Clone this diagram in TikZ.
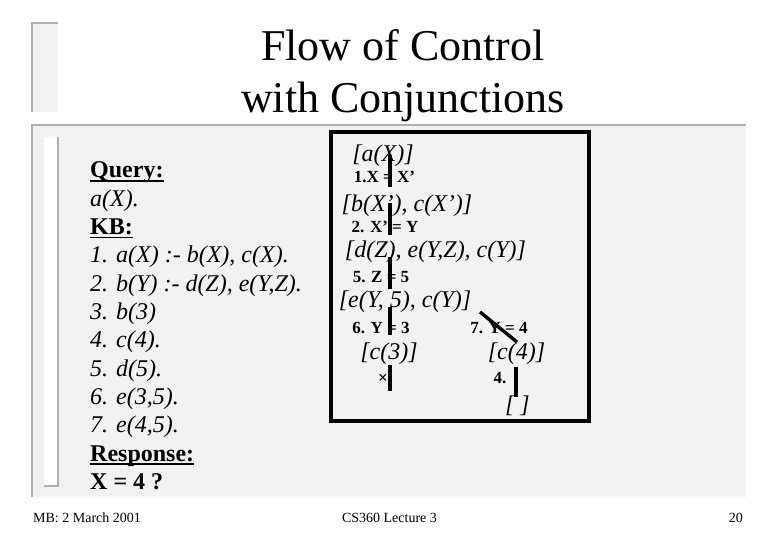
\documentclass[tikz,border=0pt]{standalone}
\usepackage{fontspec}
\setmainfont{Liberation Serif}
\usepackage{tikz}

\definecolor{panelgray}{HTML}{F2F2F2}
\definecolor{rimgray}{HTML}{B0B0B0}

% underline sitting just below the baseline
\newcommand{\uword}[1]{\setbox0=\hbox{#1}\rlap{\rule[-3.6pt]{\wd0}{1.3pt}}\box0}

\begin{document}
\begin{tikzpicture}[x=1pt, y=-1pt,
  goal/.style={inner sep=0pt, font=\fontsize{24}{28}\selectfont\itshape},
  unif/.style={inner sep=0pt, font=\fontsize{17}{19}\selectfont\bfseries},
  kbtext/.style={anchor=base west, inner sep=0pt, font=\fontsize{24}{28}\selectfont},
  foot/.style={anchor=base, inner sep=0pt, font=\fontsize{14}{16}\selectfont},
  rim/.style={draw=rimgray, line width=2pt},
  link/.style={line width=3.4pt}]
  \useasboundingbox (0,0) rectangle (780,540);

  % slide frame: title tab, body panel and the white bar inside it
  \fill[panelgray] (32,23) rectangle (58,112);
  \draw[rim] (32,112) -- (32,23) -- (58,23);
  \fill[panelgray] (32,125) rectangle (746,497);
  \draw[rim] (32,497) -- (32,125) -- (746,125);
  \fill[white] (44,137) rectangle (58,486);
  \draw[rim] (58,137) -- (58,486) -- (44,486);

  % title
  \node[anchor=base, font=\fontsize{44}{52}\selectfont] (title1) at (403,61) {Flow of Control};
  \node[anchor=base, font=\fontsize{44}{52}\selectfont] (title2) at (403,113) {with Conjunctions};

  % query, knowledge base and response
  \foreach \txt [count=\i from 0] in {
      {\bfseries\uword{Query:}},
      {\itshape a(X).},
      {\bfseries\uword{KB:}},
      {\itshape 1. a(X) :- b(X), c(X).},
      {\itshape 2. b(Y) :- d(Z), e(Y,Z).},
      {\itshape 3. b(3)},
      {\itshape 4. c(4).},
      {\itshape 5. d(5).},
      {\itshape 6. e(3,5).},
      {\itshape 7. e(4,5).},
      {\bfseries\uword{Response:}},
      {\bfseries X = 4 ?}}
    \node[kbtext] (kb\i) at (90,{178+28.3*\i}) {\txt};

  % resolution tree in its box
  \draw[line width=3.4pt] (331,132) rectangle (589,421);

  \node[goal] (ga) at (383,156) {[a(X)]};
  \node[unif] (u1) at (384.5,177) {1.X = X’};
  \node[goal] (gb) at (407,206) {[b(X’), c(X’)]};
  \node[unif] (u2) at (385,227) {2. X’ = Y};
  \node[goal] (gd) at (435.5,252) {[d(Z), e(Y,Z), c(Y)]};
  \node[unif] (u5) at (381,277) {5. Z = 5};
  \node[goal] (ge) at (405,302) {[e(Y, 5), c(Y)]};
  \node[unif] (u6) at (381,328) {6. Y = 3};
  \node[unif] (u7) at (499,328) {7. Y = 4};
  \node[goal] (gc3) at (389,354) {[c(3)]};
  \node[goal] (gc4) at (516.5,354) {[c(4)]};
  \node[unif] (fail) at (383,379) {×};
  \node[unif] (u4) at (500,378) {4.};
  \node[goal] (gnil) at (517.5,406) {[ ]};

  % branch ends
  \coordinate (a1) at (390,155);  \coordinate (b1) at (390,187);
  \coordinate (a2) at (390,203);  \coordinate (b2) at (390,235);
  \coordinate (a3) at (390,257);  \coordinate (b3) at (390,289);
  \coordinate (a4) at (390,307);  \coordinate (b4) at (390,335);
  \coordinate (a5) at (390,365);  \coordinate (b5) at (390,391);
  \coordinate (a6) at (480,312);  \coordinate (b6) at (517,342);
  \coordinate (a7) at (516,367);  \coordinate (b7) at (516,397);
  \foreach \k in {1,...,7}
    \draw[link] (a\k) -- (b\k);

  % footer
  \node[foot, anchor=base west] (date) at (33,522) {MB: 2 March 2001};
  \node[foot] (course) at (389.5,522) {CS360 Lecture 3};
  \node[foot, anchor=base east] (page) at (743,522) {20};
\end{tikzpicture}
\end{document}
